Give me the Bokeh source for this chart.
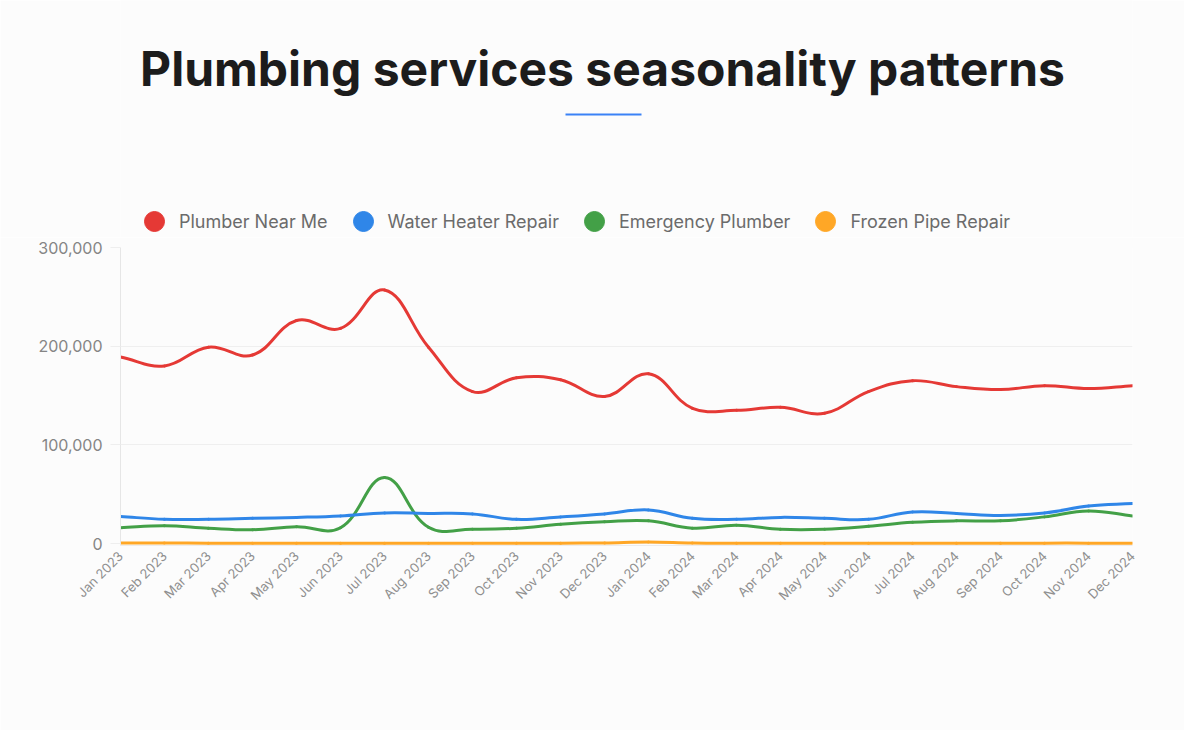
import math
from bokeh.plotting import figure
from bokeh.layouts import column
from bokeh.models import (Range1d, FixedTicker, NumeralTickFormatter, Legend,
                          LegendItem, BoxAnnotation, ColumnDataSource, Label)
from bokeh.embed import file_html
from bokeh.resources import INLINE

# ---------------- data ----------------
months = ["Jan 2023", "Feb 2023", "Mar 2023", "Apr 2023", "May 2023", "Jun 2023",
          "Jul 2023", "Aug 2023", "Sep 2023", "Oct 2023", "Nov 2023", "Dec 2023",
          "Jan 2024", "Feb 2024", "Mar 2024", "Apr 2024", "May 2024", "Jun 2024",
          "Jul 2024", "Aug 2024", "Sep 2024", "Oct 2024", "Nov 2024", "Dec 2024"]

plumber_near_me = [189000, 180000, 199000, 191000, 226000, 218000, 257000, 199000,
                   154000, 168000, 166000, 149000, 172000, 137000, 135000, 138000,
                   132000, 154000, 165000, 159000, 156000, 160000, 157000, 160000]
water_heater_repair = [27500, 24500, 24500, 25500, 26500, 28000, 31000, 30500,
                       30000, 24500, 27000, 30000, 34000, 25500, 24500, 26500,
                       25500, 24500, 32000, 30500, 28500, 31000, 38000, 40500]
emergency_plumber = [16000, 18000, 15500, 14000, 17000, 16000, 67000, 16500,
                     14500, 15500, 19500, 22000, 23000, 15500, 18500, 14500,
                     14500, 17500, 21500, 23000, 23000, 27000, 33000, 28000]
frozen_pipe_repair = [600, 500, 400, 300, 300, 300, 300, 300, 300, 300, 400, 600,
                      1500, 500, 300, 300, 300, 300, 300, 300, 300, 400, 400, 400]

series_names = ["Plumber Near Me", "Water Heater Repair", "Emergency Plumber", "Frozen Pipe Repair"]
series_values = [plumber_near_me, water_heater_repair, emergency_plumber, frozen_pipe_repair]
series_colors = ["#e53935", "#2f86e8", "#43a047", "#ffa726"]
title_text = "Plumbing services seasonality patterns"

Y_MIN, Y_MAX = -2000, 300000
X_MIN, X_MAX = 0, len(months) - 1


def spline_source(vals, tension=0.4, xpx=44.0, ypx=0.988 / 1000.0):
    """Chart.js-style smooth curve: bezier control points computed from the data."""
    n = len(vals)
    xs = list(range(n))
    cps = []
    for i in range(n):
        px, py = (xs[i - 1], vals[i - 1]) if i > 0 else (xs[i], vals[i])
        cx, cy = xs[i], vals[i]
        nx, ny = (xs[i + 1], vals[i + 1]) if i < n - 1 else (xs[i], vals[i])
        d01 = math.hypot((cx - px) * xpx, (cy - py) * ypx)
        d12 = math.hypot((nx - cx) * xpx, (ny - cy) * ypx)
        tot = d01 + d12
        s01 = d01 / tot if tot else 0.0
        s12 = d12 / tot if tot else 0.0
        fa, fb = tension * s01, tension * s12
        dx, dy = nx - px, ny - py
        cp_prev = (min(max(cx - fa * dx, X_MIN), X_MAX), min(max(cy - fa * dy, Y_MIN), Y_MAX))
        cp_next = (min(max(cx + fb * dx, X_MIN), X_MAX), min(max(cy + fb * dy, Y_MIN), Y_MAX))
        cps.append((cp_prev, cp_next))
    return ColumnDataSource(dict(
        x0=xs[:-1], y0=vals[:-1], x1=xs[1:], y1=vals[1:],
        cx0=[cps[i][1][0] for i in range(n - 1)], cy0=[cps[i][1][1] for i in range(n - 1)],
        cx1=[cps[i + 1][0][0] for i in range(n - 1)], cy1=[cps[i + 1][0][1] for i in range(n - 1)],
    ))


BG = "#fcfcfc"
FONT = "Inter"
W = 1184
HEAD_H = 237
MAIN_H = 493
FRAME_LEFT = 120   # the column aligns the header's drawing area with the chart's

# ---------------- header: title, underline, legend ----------------
head = figure(width=W, height=HEAD_H, output_backend="svg", toolbar_location=None,
              x_range=Range1d(0, 1), y_range=Range1d(0, 1), min_border=0,
              x_axis_location=None, y_axis_location=None,
              background_fill_color=BG, border_fill_color=BG, outline_line_color=None)
head.grid.visible = False

head.add_layout(Label(x=602 - FRAME_LEFT, y=HEAD_H - 68, x_units="screen", y_units="screen",
                      text=title_text, text_align="center", text_baseline="middle",
                      text_font=FONT, text_font_size="48px", text_font_style="bold",
                      text_color="#1c1c1c"))
head.add_layout(BoxAnnotation(left=565 - FRAME_LEFT, right=641 - FRAME_LEFT,
                              top=HEAD_H - 113, bottom=HEAD_H - 115,
                              left_units="screen", right_units="screen",
                              top_units="screen", bottom_units="screen",
                              fill_color="#3b82f6", fill_alpha=1, line_color=None))

items = []
for name, col in zip(series_names, series_colors):
    r = head.scatter(x=[-10], y=[-10], marker="circle", size=20, fill_color=col, line_color=col)
    items.append(LegendItem(label=name, renderers=[r]))
legend = Legend(items=items, orientation="horizontal",
                location=(129 - FRAME_LEFT, HEAD_H - 246),
                glyph_width=50, glyph_height=50, label_standoff=0, spacing=10,
                padding=0, margin=0, border_line_color=None, background_fill_alpha=0,
                label_text_font=FONT, label_text_font_size="18px",
                label_text_color="#6b6b6b")
head.add_layout(legend, "center")

# ---------------- main chart ----------------
p = figure(width=W, height=MAIN_H, output_backend="svg", toolbar_location=None,
           x_range=Range1d(X_MIN, X_MAX), y_range=Range1d(Y_MIN, Y_MAX),
           min_border_left=FRAME_LEFT, min_border_right=52, min_border_top=10,
           min_border_bottom=185, background_fill_color=BG, border_fill_color=BG,
           outline_line_color=None)

for name, vals, col in reversed(list(zip(series_names, series_values, series_colors))):
    p.bezier(x0="x0", y0="y0", x1="x1", y1="y1", cx0="cx0", cy0="cy0", cx1="cx1", cy1="cy1",
             source=spline_source(vals), line_color=col, line_width=3, line_cap="round")

p.yaxis.ticker = FixedTicker(ticks=[0, 100000, 200000, 300000])
p.yaxis.formatter = NumeralTickFormatter(format="0,0")
p.yaxis.major_label_text_font = FONT
p.yaxis.major_label_text_font_size = "16px"
p.yaxis.major_label_text_color = "#858585"
p.yaxis.axis_line_color = "#e6e6e6"
p.yaxis.major_tick_line_color = "#eeeeee"
p.yaxis.major_tick_out = 10
p.yaxis.major_tick_in = 0
p.yaxis.minor_tick_line_color = None
p.yaxis.major_label_standoff = 8

p.xaxis.ticker = FixedTicker(ticks=list(range(len(months))))
p.xaxis.major_label_overrides = {i: m for i, m in enumerate(months)}
p.xaxis.major_label_orientation = math.pi / 4
p.xaxis.major_label_text_font = FONT
p.xaxis.major_label_text_font_size = "13px"
p.xaxis.major_label_text_color = "#8f8f8f"
p.xaxis.axis_line_color = "#ececec"
p.xaxis.major_tick_line_color = None
p.xaxis.major_tick_out = 0
p.xaxis.major_tick_in = 0
p.xaxis.minor_tick_line_color = None
p.xaxis.major_label_standoff = 8

p.xgrid.grid_line_color = None
p.ygrid.grid_line_color = "#efefef"

layout = column(head, p, spacing=0)
open("out.html", "w").write(file_html(layout, INLINE))
